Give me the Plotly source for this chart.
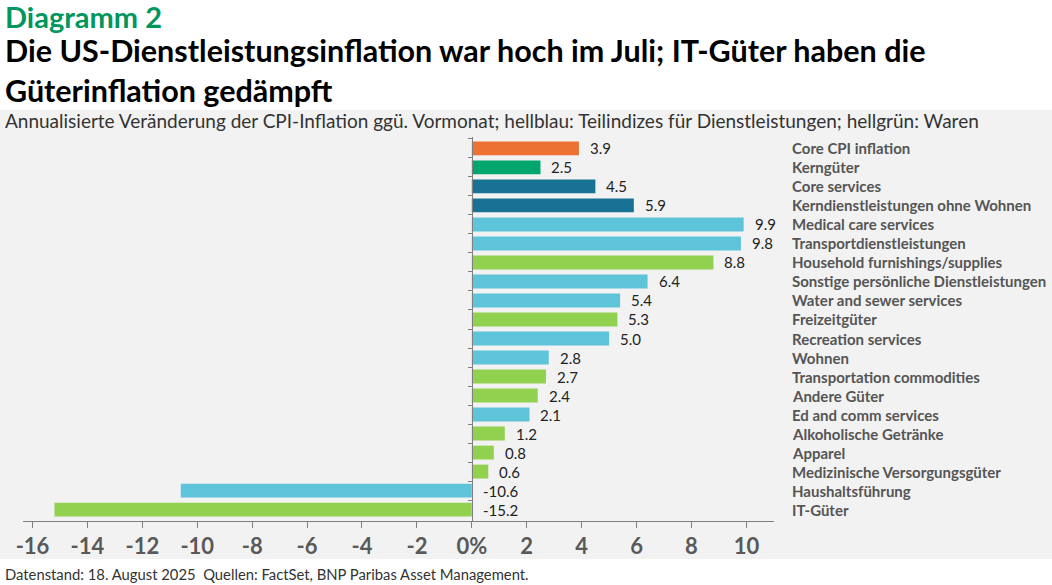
import plotly.graph_objects as go

W, H = 1052, 585
DX = 4  # the page renders the figure a few px right of the window edge

categories = [
    "Core CPI inflation", "Kerngüter", "Core services",
    "Kerndienstleistungen ohne Wohnen", "Medical care services",
    "Transportdienstleistungen", "Household furnishings/supplies",
    "Sonstige persönliche Dienstleistungen", "Water and sewer services",
    "Freizeitgüter", "Recreation services", "Wohnen",
    "Transportation commodities", "Andere Güter", "Ed and comm services",
    "Alkoholische Getränke", "Apparel", "Medizinische Versorgungsgüter",
    "Haushaltsführung", "IT-Güter",
]
values = [3.9, 2.5, 4.5, 5.9, 9.9, 9.8, 8.8, 6.4, 5.4, 5.3, 5.0, 2.8,
          2.7, 2.4, 2.1, 1.2, 0.8, 0.6, -10.6, -15.2]
groups = ["core", "kern", "svc_core", "svc_core", "svc", "svc", "goods",
          "svc", "svc", "goods", "svc", "svc", "goods", "goods", "svc",
          "goods", "goods", "goods", "svc", "goods"]
x_ticks = [-16, -14, -12, -10, -8, -6, -4, -2, 0, 2, 4, 6, 8, 10]
x_ticktext = ["-16", "-14", "-12", "-10", "-8", "-6", "-4", "-2", "0%",
              "2", "4", "6", "8", "10"]

COLORS = {
    "core": "#EB7233",
    "kern": "#00A66E",
    "svc_core": "#177294",
    "svc": "#5EC4D9",
    "goods": "#92D050",
}

FONT = "Lato, sans-serif"
GRAY = "#595959"


def px(x):
    return (x - DX) / W


def py(y):
    return 1 - y / H


# pixel layout -> paper fractions (margins are zero)
x_min, x_max = -16.35, 11.0
dom_x = [px(20), px(776)]
dom_y = [py(520.6), py(137.4)]
zero_pos = dom_x[0] + (0 - x_min) / (x_max - x_min) * (dom_x[1] - dom_x[0])

fig = go.Figure()
fig.add_trace(go.Bar(
    x=values, y=categories, orientation="h",
    marker=dict(color=[COLORS[g] for g in groups], line=dict(width=0)),
    hoverinfo="x+y", showlegend=False,
))

# grey panel behind subtitle and chart
fig.add_shape(type="rect", xref="paper", yref="paper", layer="below",
              x0=-0.01, x1=1.01, y0=py(559), y1=py(110),
              fillcolor="#F2F2F2", line=dict(width=0))

annotations = []
for cat, v in zip(categories, values):
    annotations.append(dict(
        x=max(v, 0), y=cat, xref="x", yref="y", text=f"{v:.1f}",
        xanchor="left", xshift=9, showarrow=False,
        font=dict(family=FONT, size=15, color="#222222")))
    annotations.append(dict(
        x=px(792), y=cat, xref="paper", yref="y", text=f"<b>{cat}</b>",
        xanchor="left", showarrow=False,
        font=dict(family=FONT, size=15, color="#555555")))

annotations += [
    dict(x=px(0), y=py(-3), xref="paper", yref="paper", xanchor="left",
         yanchor="top", showarrow=False, text="<b>Diagramm 2</b>",
         font=dict(family=FONT, size=29, color="#00965E")),
    dict(x=px(0), y=py(30), xref="paper", yref="paper", xanchor="left",
         yanchor="top", showarrow=False, align="left",
         text="<b>Die US-Dienstleistungsinflation war hoch im Juli; IT-Güter haben die<br>Güterinflation gedämpft</b>",
         font=dict(family=FONT, size=30.5, color="#000000")),
    dict(x=px(0), y=py(107), xref="paper", yref="paper", xanchor="left",
         yanchor="top", showarrow=False,
         text="Annualisierte Veränderung der CPI-Inflation ggü. Vormonat; hellblau: Teilindizes für Dienstleistungen; hellgrün: Waren",
         font=dict(family=FONT, size=19, color="#333333")),
    dict(x=px(0), y=py(563), xref="paper", yref="paper", xanchor="left",
         yanchor="top", showarrow=False,
         text="Datenstand: 18. August 2025  Quellen: FactSet, BNP Paribas Asset Management.",
         font=dict(family=FONT, size=14.8, color="#333333")),
]

fig.update_layout(
    width=W, height=H,
    margin=dict(l=0, r=0, t=0, b=0),
    paper_bgcolor="white", plot_bgcolor="rgba(0,0,0,0)",
    bargap=0.27,
    annotations=annotations,
    xaxis=dict(
        domain=dom_x, range=[x_min, x_max],
        tickvals=x_ticks, ticktext=x_ticktext,
        showgrid=False, zeroline=False,
        showline=True, linecolor="#7F7F7F", linewidth=1,
        ticks="outside", ticklen=6, tickcolor="#7F7F7F",
        tickfont=dict(family=FONT, size=22, color=GRAY, weight="bold"),
        fixedrange=True,
    ),
    yaxis=dict(
        domain=dom_y, autorange="reversed",
        anchor="free", position=zero_pos,
        showticklabels=False, showgrid=False, zeroline=False,
        showline=True, linecolor="#7F7F7F", linewidth=1,
        ticks="outside", ticklen=4, tickcolor="#7F7F7F",
        tickson="boundaries", fixedrange=True,
    ),
)

fig.write_html("out.html", config={"displayModeBar": False},
               post_script="document.body.style.margin='0';")
